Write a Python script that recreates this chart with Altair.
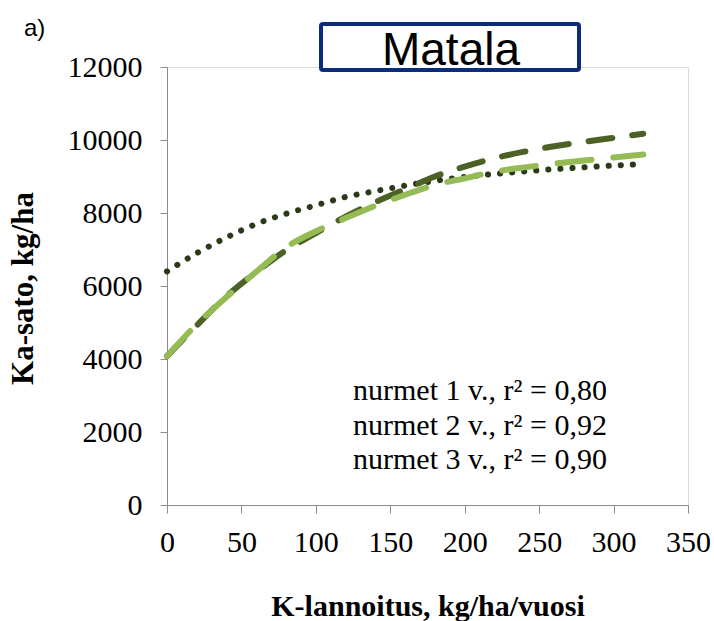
import altair as alt
import pandas as pd

# K-lannoitus (kg/ha/vuosi)
x_vals = [0, 20, 40, 60, 80, 100, 120, 140, 160, 180, 200, 220, 240, 260, 280, 300, 315]
x_vals2 = [0, 20, 40, 60, 80, 100, 120, 140, 160, 180, 200, 220, 240, 260, 280, 300, 320]

# Ka-sato (kg/ha)
dotted_y = [6400, 6900, 7330, 7700, 7980, 8210, 8440, 8600, 8750, 8880, 8990, 9070, 9140, 9200, 9250, 9300, 9330]
dark_y = [4080, 4920, 5720, 6380, 6980, 7450, 7900, 8300, 8650, 9000, 9270, 9500, 9680, 9830, 9950, 10060, 10170]
light_y = [4080, 4950, 5700, 6390, 7060, 7500, 7860, 8200, 8500, 8770, 8950, 9130, 9250, 9350, 9440, 9520, 9600]

notes = ["nurmet 1 v., r² = 0,80", "nurmet 2 v., r² = 0,92", "nurmet 3 v., r² = 0,90"]

df_dot = pd.DataFrame({"x": x_vals, "y": dotted_y})
df_dark = pd.DataFrame({"x": x_vals2, "y": dark_y})
df_light = pd.DataFrame({"x": x_vals2, "y": light_y})

SERIF = "Liberation Serif"

xscale = alt.Scale(domain=[0, 350], nice=False, zero=False)
yscale = alt.Scale(domain=[0, 12000], nice=False)

xenc = alt.X("x:Q", scale=xscale, axis=alt.Axis(
    values=list(range(0, 351, 25)),
    labelExpr="datum.value % 50 == 0 ? datum.label : ''",
    title="K-lannoitus, kg/ha/vuosi",
    titleFont=SERIF, titleFontSize=30, titleFontWeight="bold", titleColor="black",
    titlePadding=34,
    labelFont=SERIF, labelFontSize=30, labelColor="black", labelPadding=14,
    labelFlush=False, labelOverlap=False,
    grid=False, domainColor="#8c8c8c", tickColor="#8c8c8c", tickSize=8,
))
yenc = alt.Y("y:Q", scale=yscale, axis=alt.Axis(
    values=list(range(0, 12001, 2000)),
    format="d",
    title="Ka-sato, kg/ha",
    titleFont=SERIF, titleFontSize=31, titleFontWeight="bold", titleColor="black",
    titleX=-135, titleY=221, titleAngle=270, titleAlign="center", titleBaseline="alphabetic",
    labelFont=SERIF, labelFontSize=30, labelColor="black", labelPadding=18,
    labelFlush=False, labelOverlap=False,
    grid=False, domainColor="#8c8c8c", tickColor="#8c8c8c", tickSize=7,
))

dotted = alt.Chart(df_dot).mark_line(
    color="#2a3a18", strokeWidth=6, strokeDash=[0.1, 12], strokeCap="round", interpolate="monotone"
).encode(x=xenc, y=yenc)

dark = alt.Chart(df_dark).mark_line(
    color="#4b6126", strokeWidth=6, strokeDash=[24, 20], strokeCap="round", interpolate="monotone"
).encode(x=alt.X("x:Q", scale=xscale), y=alt.Y("y:Q", scale=yscale))

light = alt.Chart(df_light).mark_line(
    color="#95bb55", strokeWidth=6, strokeDash=[34, 22], strokeCap="round", interpolate="monotone"
).encode(x=alt.X("x:Q", scale=xscale), y=alt.Y("y:Q", scale=yscale))

notes_df = pd.DataFrame({"t": notes, "py": [333, 367.5, 402]})
note_text = alt.Chart(notes_df).mark_text(
    font=SERIF, fontSize=30, align="left", baseline="alphabetic", color="black"
).encode(
    text="t:N",
    x=alt.value(186),
    y=alt.Y("py:Q", scale=None),
)

box = alt.Chart(pd.DataFrame({"a": [0]})).mark_rect(
    fill="white", stroke="#0c2b7a", strokeWidth=4, cornerRadius=2
).encode(x=alt.value(154), x2=alt.value(412), y=alt.value(-43), y2=alt.value(3))

title_text = alt.Chart(pd.DataFrame({"t": ["Matala"]})).mark_text(
    font="Liberation Sans", fontSize=46, align="center", baseline="alphabetic", color="black"
).encode(text="t:N", x=alt.value(284), y=alt.value(-2))

panel = alt.Chart(pd.DataFrame({"t": ["a)"]})).mark_text(
    font="Liberation Sans", fontSize=24, align="left", baseline="alphabetic", color="black"
).encode(text="t:N", x=alt.value(-143), y=alt.value(-31))

chart = alt.layer(dotted, dark, light, note_text, box, title_text, panel).properties(
    width=521, height=438,
    autosize=alt.AutoSizeParams(type="none"),
    padding={"left": 167, "top": 67, "right": 26, "bottom": 116},
).configure_view(stroke=None).configure(background="white")

chart.save("out.html", embed_options={"renderer": "svg", "actions": False})
